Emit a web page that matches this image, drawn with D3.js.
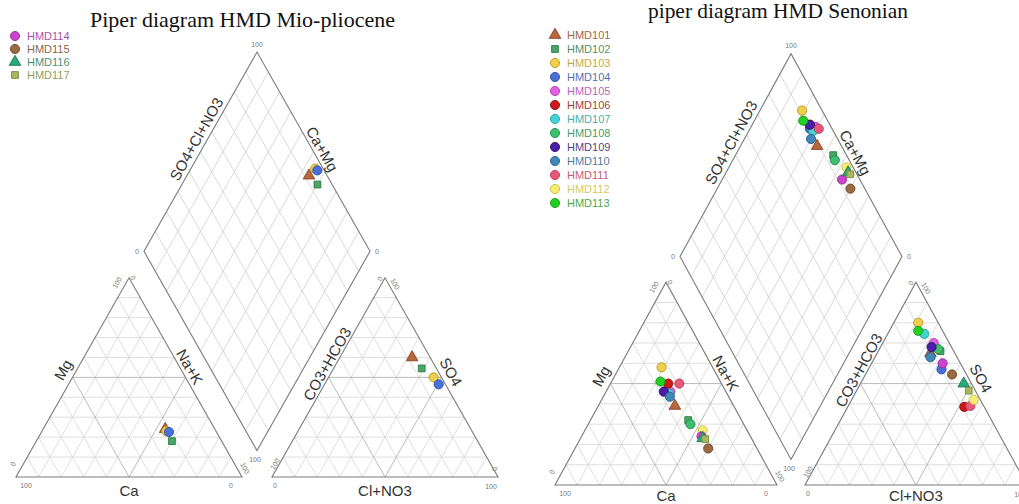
<!DOCTYPE html>
<html>
<head>
<meta charset="utf-8">
<script src="https://cdn.jsdelivr.net/npm/d3@7"></script>
<style>
  body { margin: 0; background: #fff; }
  svg { display: block; font-family: "Liberation Sans", Arial, sans-serif; }
</style>
</head>
<body>
<svg id="chart" width="1019" height="504"></svg>
<script>
// ---- data (percent of meq) ----
const sampleIds = ["HMD101", "HMD102", "HMD103", "HMD104", "HMD105", "HMD106", "HMD107", "HMD108", "HMD109",
                   "HMD110", "HMD111", "HMD112", "HMD113", "HMD114", "HMD115", "HMD116", "HMD117"];
const ca   = [26.5, 24, 23, 26, 25, 24, 26, 24, 28, 26.5, 19, 20, 27, 22, 22, 22, 21];
const mg   = [39, 32, 58, 47, 46, 50, 45, 30, 46, 43.5, 50, 27, 51, 24, 18, 23, 22.6];
const nak  = [34.5, 44, 19, 27, 29, 26, 29, 46, 26, 30, 31, 53, 22, 54, 60, 55, 56.4];
const hco3 = [11, 6, 9, 10, 7, 9, 9, 6.5, 9, 12, 6, 3, 11, 8, 6.5, 3.5, 3];
const so4  = [65, 66, 80, 57, 70, 38.5, 74.5, 67, 68, 63, 39, 42, 76, 60, 54.5, 50, 46.5];
const cl   = [24, 28, 11, 33, 23, 52.5, 16.5, 26.5, 23, 25, 55, 55, 13, 32, 39, 46.5, 50.5];

// which samples go in which diagram, and the legend entries shown
const leftSamples = ["HMD114", "HMD115", "HMD116", "HMD117"];
const rightSamples = sampleIds;
const leftLegend = ["HMD114", "HMD115", "HMD116", "HMD117"];
const rightLegend = sampleIds.slice(0, 13);

const leftTitle = "Piper diagram HMD Mio-pliocene";
const rightTitle = "piper diagram HMD Senonian";

// ---- marker styles (by plotting order) ----
const symKind = ["triangle", "square", "circle", "circle", "circle", "circle", "circle", "circle", "circle",
                 "circle", "circle", "circle", "circle", "circle", "circle", "triangle", "square"];
const fills   = ["#b8663c", "#49a865", "#efcf4c", "#4a6fd8", "#e060e0", "#cc1a1a", "#44d2d2", "#3cc070", "#4b1fa8",
                 "#3f88b8", "#e8587a", "#f4ee72", "#22d022", "#cc44cc", "#9a6a40", "#2aa878", "#a8b860"];
const strokes = ["#8a4424", "#2b7a45", "#b8961a", "#2f4fa8", "#b040b0", "#901010", "#20a0a0", "#228a4a", "#301070",
                 "#2a6088", "#b83a5a", "#c8c040", "#189818", "#992a99", "#6d4628", "#1a7a55", "#7d8a3a"];

const H = Math.sqrt(3) / 2;
const svg = d3.select("#chart");

function symbolPath(k) {
  const t = symKind[k];
  if (t === "triangle") return d3.symbol().type(d3.symbolTriangle).size(58)();
  if (t === "square") return d3.symbol().type(d3.symbolSquare).size(46)();
  return d3.symbol().type(d3.symbolCircle).size(66)();
}

function drawMarker(g, px, py, k) {
  g.append("path")
    .attr("d", symbolPath(k))
    .attr("transform", "translate(" + px + "," + py + ")")
    .attr("fill", fills[k])
    .attr("stroke", strokes[k])
    .attr("stroke-width", 0.9);
}

function drawPiper(cfg, members, styleOf) {
  const g = cfg.gap / cfg.S;
  const x = d3.scaleLinear().domain([0, 1]).range([cfg.x0, cfg.x0 + cfg.S]);
  const y = d3.scaleLinear().domain([0, 1]).range([cfg.y0, cfg.y0 - cfg.S * cfg.yf]);
  const line = d3.line().x(p => x(p[0])).y(p => y(p[1]));
  const P = p => [x(p[0]), y(p[1])];

  const cat = (na, m) => [na + m / 2, m * H];
  const an = (c, s) => [1 + g + c + s / 2, s * H];
  const B = [1 + g / 2, g * H];
  const dia = (cm, sc) => [B[0] + (sc - cm) / 2, B[1] + (sc + cm) * H];

  const root = svg.append("g");
  const grid = root.append("g").attr("fill", "none");

  // triangle grids, every 10 %
  [0, 1 + g].forEach(ox => {
    for (let i = 1; i < 10; i++) {
      const t = i / 10;
      const segs = [
        [[ox + t / 2, t * H], [ox + 1 - t / 2, t * H]],
        [[ox + t, 0], [ox + t + (1 - t) / 2, (1 - t) * H]],
        [[ox + 1 - t, 0], [ox + (1 - t) / 2, (1 - t) * H]]
      ];
      segs.forEach(s => grid.append("path").attr("d", line(s))
        .attr("stroke", i === 5 ? "#a9a9a9" : "#d6d6d6").attr("stroke-width", 0.8));
    }
  });
  // diamond grid
  for (let i = 1; i < 10; i++) {
    const t = i / 10;
    grid.append("path").attr("d", line([dia(0, t), dia(1, t)])).attr("stroke", "#cfcfcf").attr("stroke-width", 0.8);
    grid.append("path").attr("d", line([dia(t, 0), dia(t, 1)])).attr("stroke", "#cfcfcf").attr("stroke-width", 0.8);
  }

  // outlines
  const cT = [[0, 0], [1, 0], [0.5, H]];
  const aT = [[1 + g, 0], [2 + g, 0], [1.5 + g, H]];
  const dm = [dia(0, 0), dia(0, 1), dia(1, 1), dia(1, 0)];
  [cT, aT, dm].forEach(poly => {
    root.append("path").attr("d", line(poly) + "Z")
      .attr("fill", "none").attr("stroke", "#7a7a7a").attr("stroke-width", 1.1);
  });

  // axis titles along edges
  function edgeLabel(p0, p1, txt, s, n) {
    const a = P(p0), b = P(p1);
    const len = Math.hypot(b[0] - a[0], b[1] - a[1]);
    const u = [(b[0] - a[0]) / len, (b[1] - a[1]) / len];
    const nv = [u[1], -u[0]];
    const cx = (a[0] + b[0]) / 2 + u[0] * s + nv[0] * n;
    const cy = (a[1] + b[1]) / 2 + u[1] * s + nv[1] * n;
    let ang = Math.atan2(u[1], u[0]) * 180 / Math.PI;
    if (ang > 90) ang -= 180;
    if (ang < -90) ang += 180;
    root.append("text")
      .attr("transform", "translate(" + cx + "," + cy + ") rotate(" + ang + ")")
      .attr("text-anchor", "middle")
      .attr("dominant-baseline", "central")
      .attr("font-size", 15)
      .attr("fill", "#333")
      .text(txt);
  }
  edgeLabel(cT[0], cT[2], "Mg", 2, 12);
  edgeLabel(cT[2], cT[1], "Na+K", -7, 9);
  edgeLabel(cT[1], cT[0], "Ca", 0, cfg.bottomGap);
  edgeLabel(aT[0], aT[2], "CO3+HCO3", 11, 8);
  edgeLabel(aT[2], aT[1], "SO4", 0, 11);
  edgeLabel(aT[1], aT[0], "Cl+NO3", 0, cfg.bottomGap);
  edgeLabel(dm[3], dm[2], "SO4+Cl+NO3", 9, 10);
  edgeLabel(dm[2], dm[1], "Ca+Mg", 2, 9);

  // small corner values
  function tick(p, dx, dy, txt, rot) {
    const q = P(p);
    root.append("text")
      .attr("transform", "translate(" + (q[0] + dx) + "," + (q[1] + dy) + ") rotate(" + (rot || 0) + ")")
      .attr("text-anchor", "middle")
      .attr("dominant-baseline", "central")
      .attr("font-size", 7)
      .attr("fill", "#777")
      .text(txt);
  }
  tick(dm[2], 0, -8, "100");
  tick(dm[3], -7, 0, "0");
  tick(dm[1], 7, 0, "0");
  tick(dm[0], -2, 9, "100");
  tick(cT[0], 10, 8, "100");
  tick(cT[1], -11, 8, "0");
  tick(cT[0], -3, -13, "0", -60);
  tick(cT[2], -12, 5, "100", -60);
  tick(cT[2], 4, 0, "0", 60);
  tick(cT[1], 3, -9, "100", 60);
  tick(aT[0], 3, 8, "0");
  tick(aT[1], -7, 9, "100");
  tick(aT[0], 3, -13, "100", -60);
  tick(aT[2], -5, 1, "0", -60);
  tick(aT[2], 10, 6, "100", 60);
  tick(aT[1], -3, -8, "0", 60);

  // samples
  const pts = root.append("g");
  members.forEach((id, j) => {
    const k = sampleIds.indexOf(id);
    const st = styleOf(j, k);
    const c1 = P(cat(nak[k] / 100, mg[k] / 100));
    const c2 = P(an(cl[k] / 100, so4[k] / 100));
    const c3 = P(dia(1 - nak[k] / 100, 1 - hco3[k] / 100));
    drawMarker(pts, c1[0], c1[1], st);
    drawMarker(pts, c2[0], c2[1], st);
    drawMarker(pts, c3[0], c3[1], st);
  });
}

function drawLegend(names, x0, y0, step, styleOf) {
  const g = svg.append("g");
  names.forEach((nm, i) => {
    const k = styleOf(i, sampleIds.indexOf(nm));
    drawMarker(g, x0, y0 + i * step, k);
    g.append("text")
      .attr("x", x0 + 12)
      .attr("y", y0 + i * step)
      .attr("dominant-baseline", "central")
      .attr("font-size", 11)
      .attr("fill", strokes[k])
      .attr("fill-opacity", 0.85)
      .text(nm);
  });
}

// left diagram: the markers follow plotting order, the legend uses the sample's own style
drawPiper({ x0: 16, y0: 477, S: 226, gap: 30, yf: 1.018, bottomGap: 13 }, leftSamples, (j, k) => j);
drawPiper({ x0: 555, y0: 485, S: 222, gap: 28, yf: 1.055, bottomGap: 10.5 }, rightSamples, (j, k) => k);

drawLegend(leftLegend, 15, 36, 13, (i, k) => k);
drawLegend(rightLegend, 555, 35, 14, (i, k) => k);

svg.append("text")
  .attr("x", 90).attr("y", 27)
  .attr("font-family", "'Liberation Serif', 'Times New Roman', serif")
  .attr("font-size", 21)
  .attr("fill", "#111")
  .attr("textLength", 305)
  .attr("lengthAdjust", "spacingAndGlyphs")
  .text(leftTitle);

svg.append("text")
  .attr("x", 648).attr("y", 18)
  .attr("font-family", "'Liberation Serif', 'Times New Roman', serif")
  .attr("font-size", 21)
  .attr("fill", "#111")
  .attr("textLength", 260)
  .attr("lengthAdjust", "spacingAndGlyphs")
  .text(rightTitle);
</script>
</body>
</html>
